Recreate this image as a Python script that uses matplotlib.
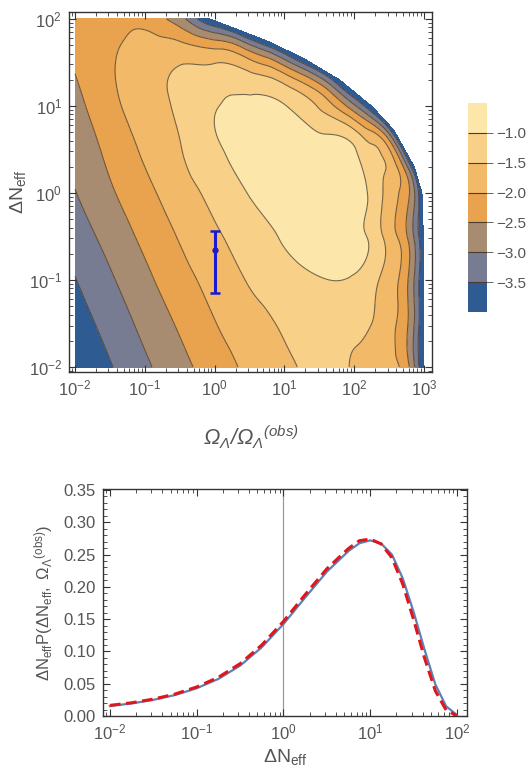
import numpy as np
import matplotlib
matplotlib.use('Agg')
import matplotlib.pyplot as plt
import matplotlib.tri as mtri
from matplotlib.ticker import MultipleLocator, LogLocator, NullFormatter

plt.rcParams.update({
    'font.family': 'sans-serif',
    'font.sans-serif': ['Liberation Sans'],
    'mathtext.fontset': 'custom',
    'mathtext.rm': 'Liberation Sans',
    'mathtext.it': 'Liberation Sans:italic',
    'mathtext.sf': 'Liberation Sans:italic',
})

nan = np.nan

# ---- top panel: log10 of the distribution on a log grid ----
omega_exp = [-2.0, -1.5, -1.0, -0.5, 0.0, 0.5, 1.0, 1.5, 2.0, 2.25, 2.5]
dneff_exp = [-2.0, -1.5, -1.0, -0.5, 0.0, 0.5, 1.0, 1.5, 2.0]
log_p = [
    [-4.00, -3.54, -3.09, -2.66, -2.25, -1.89, -1.60, -1.40, -1.53, -1.71, -1.88],
    [-3.75, -3.31, -2.86, -2.43, -2.02, -1.70, -1.43, -1.30, -1.38, -1.50, -1.83],
    [-3.52, -3.07, -2.62, -2.19, -1.81, -1.46, -1.20, -1.03, -1.06, -1.33, -1.74],
    [-3.27, -2.82, -2.38, -1.96, -1.58, -1.25, -0.95, -0.80, -0.88, -1.12, -1.72],
    [-3.02, -2.57, -2.14, -1.73, -1.34, -0.98, -0.80, -0.72, -0.87, -1.11, -1.72],
    [-2.83, -2.37, -1.92, -1.53, -1.07, -0.88, -0.76, -0.76, -0.96, -1.40, nan],
    [-2.66, -2.15, -1.75, -1.40, -1.03, -0.90, -0.98, -1.56, -2.90, nan, nan],
    [-2.45, -2.05, -1.75, -1.53, -1.52, -1.85, -2.75, nan, nan, nan, nan],
    [-2.35, -2.20, -2.12, -2.80, nan, nan, nan, nan, nan, nan, nan],
]

# edge of the allowed region (upper right), where the distribution vanishes
edge_omega_exp = [-0.07, 0.36, 0.83, 1.31, 1.79, 2.26, 2.57, 2.86, 2.97, 2.99, 2.99, 2.99, 2.99]
edge_dneff_exp = [2.00, 1.87, 1.72, 1.53, 1.30, 0.99, 0.72, 0.30, 0.00, -0.50, -1.00, -1.50, -2.00]
edge_log_p = -4.0

# the -2.5 contour where it runs along that edge
rim_omega_exp = [-0.69, 0.29, 0.74, 1.21, 1.66, 2.13, 2.50, 2.74, 2.79, 2.77, 2.77, 2.77, 2.79]
rim_dneff_exp = [2.00, 1.71, 1.56, 1.38, 1.16, 0.86, 0.61, 0.23, -0.02, -0.54, -1.00, -1.49, -2.00]
rim_log_p = -2.5

levels = [-10, -3.5, -3.0, -2.5, -2.0, -1.5, -1.0, 0]
band_colors = ['#2d5b92', '#787c93', '#a88c72', '#e9a24e', '#f2ba68', '#f9d088', '#fde6a9']
cbar_ticks = [-3.5, -3.0, -2.5, -2.0, -1.5, -1.0]

# observed point with error bar
obs_omega = 1.0
obs_dneff = 0.22
obs_err_lo = 0.15
obs_err_hi = 0.15

# ---- bottom panel ----
curve_exp = [-2.0, -1.75, -1.5, -1.25, -1.0, -0.75, -0.5, -0.25, 0.0, 0.25, 0.5, 0.75,
             0.875, 1.0, 1.125, 1.25, 1.375, 1.5, 1.625, 1.75, 1.875, 2.0]
p_full = [0.0155, 0.0195, 0.0250, 0.0325, 0.0430, 0.0575, 0.0780, 0.1065, 0.1425, 0.1835,
          0.2235, 0.2555, 0.2675, 0.2720, 0.2670, 0.2500, 0.2130, 0.1610, 0.1030, 0.0490,
          0.0150, 0.0015]
p_approx = [0.0165, 0.0205, 0.0262, 0.0340, 0.0450, 0.0600, 0.0810, 0.1100, 0.1465, 0.1880,
            0.2280, 0.2595, 0.2715, 0.2740, 0.2665, 0.2450, 0.2040, 0.1490, 0.0900, 0.0390,
            0.0090, 0.0003]

label_gray = '#555555'
frame_col = '#333333'

fig = plt.figure(figsize=(5.28, 7.74), dpi=100)

# ================= contour panel =================
ax = fig.add_axes([0.1307, 0.5194, 0.6875, 0.4651])

U, V = np.meshgrid(omega_exp, dneff_exp)
Z = np.array(log_p)
ok = np.isfinite(Z)
pu = np.concatenate([U[ok], rim_omega_exp, edge_omega_exp])
pv = np.concatenate([V[ok], rim_dneff_exp, edge_dneff_exp])
pz = np.concatenate([Z[ok], np.full(len(rim_omega_exp), rim_log_p),
                     np.full(len(edge_omega_exp), edge_log_p)])

tri = mtri.Triangulation(pu, pv)
refiner = mtri.UniformTriRefiner(tri)
tri_r, z_r = refiner.refine_field(pz, mtri.CubicTriInterpolator(tri, pz, kind='min_E'), subdiv=4)
tri_plot = mtri.Triangulation(10 ** tri_r.x, 10 ** tri_r.y, tri_r.triangles)

cf = ax.tricontourf(tri_plot, z_r, levels=levels, colors=band_colors)
ax.tricontour(tri_plot, z_r, levels=levels[1:-1], colors='#4a3d2e', linewidths=0.8,
              linestyles='solid', alpha=0.75)

ax.errorbar([obs_omega], [obs_dneff], yerr=[[obs_err_lo], [obs_err_hi]], fmt='o',
            color='#1a1ad0', ms=3.5, elinewidth=2.2, capsize=3.5, capthick=1.8, zorder=5)

ax.set_xscale('log')
ax.set_yscale('log')
ax.set_xlim(10 ** -2.086, 10 ** 3.114)
ax.set_ylim(10 ** -2.057, 10 ** 2.08)
ax.xaxis.set_major_locator(LogLocator(base=10, numticks=10))
ax.yaxis.set_major_locator(LogLocator(base=10, numticks=10))
ax.xaxis.set_minor_locator(LogLocator(base=10, subs=np.arange(2, 10), numticks=20))
ax.yaxis.set_minor_locator(LogLocator(base=10, subs=np.arange(2, 10), numticks=20))
ax.xaxis.set_minor_formatter(NullFormatter())
ax.yaxis.set_minor_formatter(NullFormatter())
ax.tick_params(which='both', direction='in', top=True, right=True, color=frame_col)
ax.tick_params(which='major', length=5, width=0.8, labelsize=12, labelcolor=label_gray, pad=5)
ax.tick_params(which='minor', length=3, width=0.6)
for s in ax.spines.values():
    s.set_color(frame_col)
    s.set_linewidth(1.0)

ax.set_xlabel(r'$\mathsf{\Omega_\Lambda/\Omega_\Lambda{}^{(obs)}}$', fontsize=15.5, color=label_gray)
ax.xaxis.set_label_coords(0.5, -0.145)
ax.set_ylabel(r'$\Delta\mathrm{N_{eff}}$', fontsize=14, color=label_gray)
ax.yaxis.set_label_coords(-0.113, 0.5)

# colour legend
cax = fig.add_axes([0.8864, 0.5969, 0.036, 0.2700])
cb = fig.colorbar(cf, cax=cax, spacing='uniform', ticks=cbar_ticks, drawedges=True)
cb.outline.set_visible(False)
cb.dividers.set_color('#4a3d2e')
cb.dividers.set_linewidth(0.8)
cb.set_ticklabels(['\u2212%.1f' % abs(t) for t in cbar_ticks])
cax.tick_params(length=4, width=0.7, color='#666666', labelsize=11, labelcolor=label_gray, pad=3)

# ================= distribution panel =================
ax2 = fig.add_axes([0.1951, 0.0749, 0.6894, 0.2933])
x_curve = 10 ** np.array(curve_exp)
ax2.axvline(1.0, color='#999999', lw=0.9, zorder=1)
ax2.plot(x_curve, p_full, color='#5e81b5', lw=1.6, zorder=3)
ax2.plot(x_curve, p_approx, color='#e0161b', lw=2.2, ls=(0, (3.5, 1.8)), zorder=4)

ax2.set_xscale('log')
ax2.set_xlim(10 ** -2.08, 10 ** 2.115)
ax2.set_ylim(0, 0.3515)
ax2.yaxis.set_major_locator(MultipleLocator(0.05))
ax2.yaxis.set_minor_locator(MultipleLocator(0.01))
ax2.yaxis.set_major_formatter(plt.FormatStrFormatter('%.2f'))
ax2.xaxis.set_major_locator(LogLocator(base=10, numticks=10))
ax2.xaxis.set_minor_locator(LogLocator(base=10, subs=np.arange(2, 10), numticks=20))
ax2.xaxis.set_minor_formatter(NullFormatter())
ax2.tick_params(which='both', direction='in', top=True, right=True, color=frame_col)
ax2.tick_params(which='major', length=5, width=0.8, labelsize=12, labelcolor=label_gray, pad=5)
ax2.tick_params(which='minor', length=3, width=0.6)
for s in ax2.spines.values():
    s.set_color(frame_col)
    s.set_linewidth(1.0)

ax2.set_xlabel(r'$\Delta\mathrm{N_{eff}}$', fontsize=14, color=label_gray)
ax2.xaxis.set_label_coords(0.5, -0.135)
ax2.set_ylabel(r'$\Delta\mathrm{N_{eff}P(\Delta N_{eff},\ \Omega_\Lambda{}^{(obs)})}$',
               fontsize=12, color=label_gray)
ax2.yaxis.set_label_coords(-0.132, 0.5)

fig.savefig('out.png', dpi=100)
